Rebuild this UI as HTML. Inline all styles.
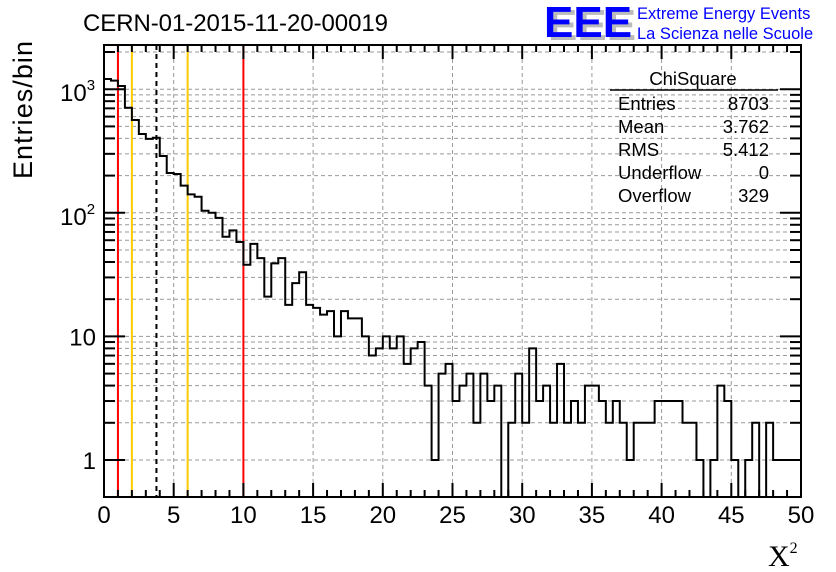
<!DOCTYPE html>
<html><head><meta charset="utf-8"><style>
body{margin:0;background:#fff;}
svg{display:block;font-family:"Liberation Sans",sans-serif;}
</style></head><body>
<svg id="chart" width="836" height="572" viewBox="0 0 836 572">
<text x="83" y="31" font-size="24" textLength="305">CERN-01-2015-11-20-00019</text>
<g>
<text x="548" y="40" font-size="44" font-weight="bold" fill="#bbb">EEE</text>
<text x="544" y="37" font-size="44" font-weight="bold" fill="#0000ff">EEE</text>
<text x="637" y="19" font-size="16.5" fill="#0000ff">Extreme Energy Events</text>
<text x="637" y="39" font-size="16.5" fill="#0000ff">La Scienza nelle Scuole</text>
</g>
<text transform="translate(32,179) rotate(-90)" font-size="27" textLength="138">Entries/bin</text>
<text x="768" y="566" font-size="30" font-family="Liberation Serif,serif">X<tspan font-size="16" dy="-13">2</tspan></text>
<g id="grid"></g><g id="lines"></g><g id="hist"></g><g id="axes"></g>
<g font-size="18.5">
<text x="693" y="85" text-anchor="middle">ChiSquare</text>
<line x1="610" y1="90" x2="778" y2="90" stroke="#000" stroke-width="1.5"/>
<text x="618" y="110">Entries</text><text x="769" y="110" text-anchor="end">8703</text>
<text x="618" y="133">Mean</text><text x="769" y="133" text-anchor="end">3.762</text>
<text x="618" y="156">RMS</text><text x="769" y="156" text-anchor="end">5.412</text>
<text x="618" y="179">Underflow</text><text x="769" y="179" text-anchor="end">0</text>
<text x="618" y="202">Overflow</text><text x="769" y="202" text-anchor="end">329</text>
</g>
</svg>
<script>
const binEdgesStart = 0, binWidth = 0.5;
const counts = [1210,1172,1062,708,563,434,396,405,288,210,206,166,141,135,104,100,91,64,72,58,
38,56,43,21,39,43,18,27,33,18,17,15,16,10,16,14,14,10,7,8,
10,8,10,6,8,9,4,1,5,6,3,4,5,2,5,3,4,0,2,5,
2,8,3,4,2,6,2,3,2,4,4,3,2,3,2,1,2,2,2,3,
3,3,3,2,2,1,0,1,4,3,1,0,1,2,0,2,1,1,1,1];
const xTickLabels = ["0","5","10","15","20","25","30","35","40","45","50"];
const cutLines = [{x:1,c:"#ff0000",d:""},{x:10,c:"#ff0000",d:""},{x:2,c:"#ffcc00",d:""},{x:6,c:"#ffcc00",d:""},{x:3.762,c:"#000",d:"5,4"}];
const L=104,R=801,T=45,B=497, xMin=0,xMax=50, yMin=0.5;
const sx=v=>L+(v-xMin)/(xMax-xMin)*(R-L);
const sy=v=>460-123.6*Math.log10(v);
const NS="http://www.w3.org/2000/svg";
function mk(p,tag,at){const e=document.createElementNS(NS,tag);for(const k in at)e.setAttribute(k,at[k]);p.appendChild(e);return e;}
const grid=document.getElementById('grid'),lines=document.getElementById('lines'),hist=document.getElementById('hist'),axes=document.getElementById('axes');

for(let v=5;v<50;v+=5){const g=mk(grid,'line',{x1:sx(v),x2:sx(v),y1:T,y2:B,stroke:'#999','stroke-dasharray':'4,3','stroke-width':1});
}
const yTicks=[];
for(let d=0;d<=3;d++)for(let m=1;m<=9;m++){const v=m*Math.pow(10,d);const y=sy(v);if(y<T||y>B)continue;yTicks.push([y,m==1]);
const g=mk(grid,'line',{x1:L,x2:R,y1:y,y2:y,stroke:'#999','stroke-dasharray':'4,3','stroke-width':1});
}
cutLines.forEach(c=>{const l=mk(lines,'line',{x1:sx(c.x),x2:sx(c.x),y1:T,y2:B,stroke:c.c,'stroke-width':2,'stroke-dasharray':c.d});
});
let d='';let prevY=null;
counts.forEach((c,i)=>{const x0=sx(binEdgesStart+i*binWidth),x1=sx(binEdgesStart+(i+1)*binWidth);
let y=c>0?sy(c):B; y=Math.max(T,Math.min(B,y));
if(prevY===null)d+=`M${x0},${y}`;else d+=`L${x0},${y}`;d+=`L${x1},${y}`;prevY=y;});
const hp=mk(hist,'path',{d:d,fill:'none',stroke:'#000','stroke-width':2});


mk(axes,'rect',{x:L,y:T,width:R-L,height:B-T,fill:'none',stroke:'#000','stroke-width':2});
for(let v=0;v<=50;v++){const x=sx(v),len=v%5==0?14:7;
mk(axes,'line',{x1:x,x2:x,y1:B,y2:B-len,stroke:'#000','stroke-width':2});
mk(axes,'line',{x1:x,x2:x,y1:T,y2:T+len,stroke:'#000','stroke-width':2});}
xTickLabels.forEach((t,i)=>{const e=mk(axes,'text',{x:sx(i*5),y:523,'font-size':24,'text-anchor':'middle'});e.textContent=t;
});
yTicks.forEach(([y,maj])=>{const len=maj?21:11;
mk(axes,'line',{x1:L,x2:L+len,y1:y,y2:y,stroke:'#000','stroke-width':2});
mk(axes,'line',{x1:R,x2:R-len,y1:y,y2:y,stroke:'#000','stroke-width':2});});
[["1",sy(1)],["10",sy(10)]].forEach(([t,y])=>{const e=mk(axes,'text',{x:96,y:y+9,'font-size':24,'text-anchor':'end'});e.textContent=t;
});
const e3=mk(axes,'text',{x:60,y:sy(1000)+12,'font-size':24});e3.innerHTML='10<tspan font-size="15" dy="-11">3</tspan>';

const e2=mk(axes,'text',{x:60,y:sy(100)+12,'font-size':24});e2.innerHTML='10<tspan font-size="15" dy="-11">2</tspan>';

</script>
</body></html>
